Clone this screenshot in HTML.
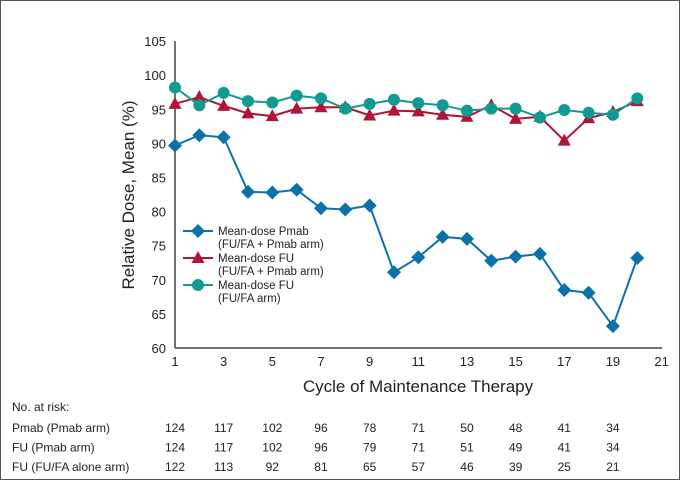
<!DOCTYPE html>
<html><head><meta charset="utf-8"><style>
body{margin:0;background:#fff;}
svg text{font-family:"Liberation Sans",Arial,sans-serif;fill:#222;}
</style></head><body>
<svg width="680" height="480">
<rect x="0.5" y="0.5" width="679" height="479" fill="#fff" stroke="#555"/>
<g id="axes"></g><g id="series"></g>
<text x="134" y="195" transform="rotate(-90 134 195)" text-anchor="middle" font-size="17">Relative Dose, Mean (%)</text>
<text x="418" y="392" text-anchor="middle" font-size="17">Cycle of Maintenance Therapy</text>
<g id="legend" font-size="11.5"></g>
<g id="risk" font-size="12"></g>
</svg>
<script>
const cycles=[1,2,3,4,5,6,7,8,9,10,11,12,13,14,15,16,17,18,19,20];
const pmab=[89.7,91.2,90.9,82.9,82.8,83.2,80.5,80.3,80.9,71.1,73.3,76.3,76.0,72.8,73.4,73.8,68.5,68.1,63.2,73.2];
const fuPmab=[95.8,96.8,95.5,94.4,94.0,95.1,95.3,95.3,94.1,94.8,94.7,94.2,93.9,95.6,93.6,93.9,90.4,93.7,94.6,96.2];
const fuAlone=[98.2,95.6,97.4,96.2,96.0,97.0,96.6,95.1,95.8,96.4,95.9,95.6,94.8,95.1,95.1,93.8,94.9,94.5,94.2,96.6];
const xTicks=[1,3,5,7,9,11,13,15,17,19,21];
const yTicks=[60,65,70,75,80,85,90,95,100,105];
const riskCycles=[1,3,5,7,9,11,13,15,17,19];
const riskLabels=["Pmab (Pmab arm)","FU (Pmab arm)","FU (FU/FA alone arm)"];
const riskPmab=[124,117,102,96,78,71,50,48,41,34];
const riskFuPmab=[124,117,102,96,79,71,51,49,41,34];
const riskFuAlone=[122,113,92,81,65,57,46,39,25,21];
const NS="http://www.w3.org/2000/svg";
const X=v=>175+(v-1)*24.33;
const Y=v=>348-(v-60)*6.82;
function mk(t,a,p){const e=document.createElementNS(NS,t);for(const k in a)e.setAttribute(k,a[k]);p.appendChild(e);return e;}
const ax=document.getElementById('axes');
let l=mk('line',{x1:175,y1:Y(105),x2:175,y2:348,stroke:'#444','stroke-width':1.5},ax);


l=mk('line',{x1:175,y1:348,x2:662,y2:348,stroke:'#444','stroke-width':1.5},ax);


yTicks.forEach(v=>{const t=mk('text',{x:166,y:Y(v)+5,'text-anchor':'end','font-size':13},ax);t.textContent=v;

});
xTicks.forEach(v=>{const t=mk('text',{x:X(v),y:366,'text-anchor':'middle','font-size':13},ax);t.textContent=v;

});
const sg=document.getElementById('series');
function marker(type,cx,cy,c,p){
 if(type==='d')return mk('polygon',{points:`${cx},${cy-7} ${cx+7},${cy} ${cx},${cy+7} ${cx-7},${cy}`,fill:c},p);
 if(type==='t')return mk('polygon',{points:`${cx},${cy-7} ${cx+6.5},${cy+5} ${cx-6.5},${cy+5}`,fill:c},p);
 return mk('circle',{cx:cx,cy:cy,r:6,fill:c},p);
}
const series=[[pmab,'#0b72a8','d','pmab'],[fuPmab,'#b01535','t','fu-pmab-arm'],[fuAlone,'#119a92','c','fu-alone-arm']];
series.forEach(([d,c,m,n])=>{
 const g=mk('g',{},sg);
 
 
 const pl=mk('polyline',{points:d.map((v,i)=>X(cycles[i])+','+Y(v)).join(' '),fill:'none',stroke:c,'stroke-width':2},g);
 
 
 d.forEach((v,i)=>{const e=marker(m,X(cycles[i]),Y(v),c,g);
 
 });
});
const lg=document.getElementById('legend');
const lt=[["Mean-dose Pmab","(FU/FA + Pmab arm)"],["Mean-dose FU","(FU/FA + Pmab arm)"],["Mean-dose FU","(FU/FA arm)"]];
series.forEach(([d,c,m,n],i)=>{
 const y=231+i*27;
 const g=mk('g',{},lg);
 
 
 mk('line',{x1:183,y1:y,x2:213,y2:y,stroke:c,'stroke-width':2},g);
 marker(m,198,y,c,g);
 let t=mk('text',{x:218,y:y+4},g);t.textContent=lt[i][0];
 t=mk('text',{x:218,y:y+17},g);t.textContent=lt[i][1];
});
const rk=document.getElementById('risk');
let t=mk('text',{x:12,y:411},rk);t.textContent="No. at risk:";
[riskPmab,riskFuPmab,riskFuAlone].forEach((row,r)=>{
 const y=432+r*19.5;
 const tl=mk('text',{x:12,y:y},rk);tl.textContent=riskLabels[r];
 
 
 row.forEach((v,i)=>{const e=mk('text',{x:X(riskCycles[i]),y:y,'text-anchor':'middle'},rk);e.textContent=v;
 
 });
});
</script>
</body></html>
